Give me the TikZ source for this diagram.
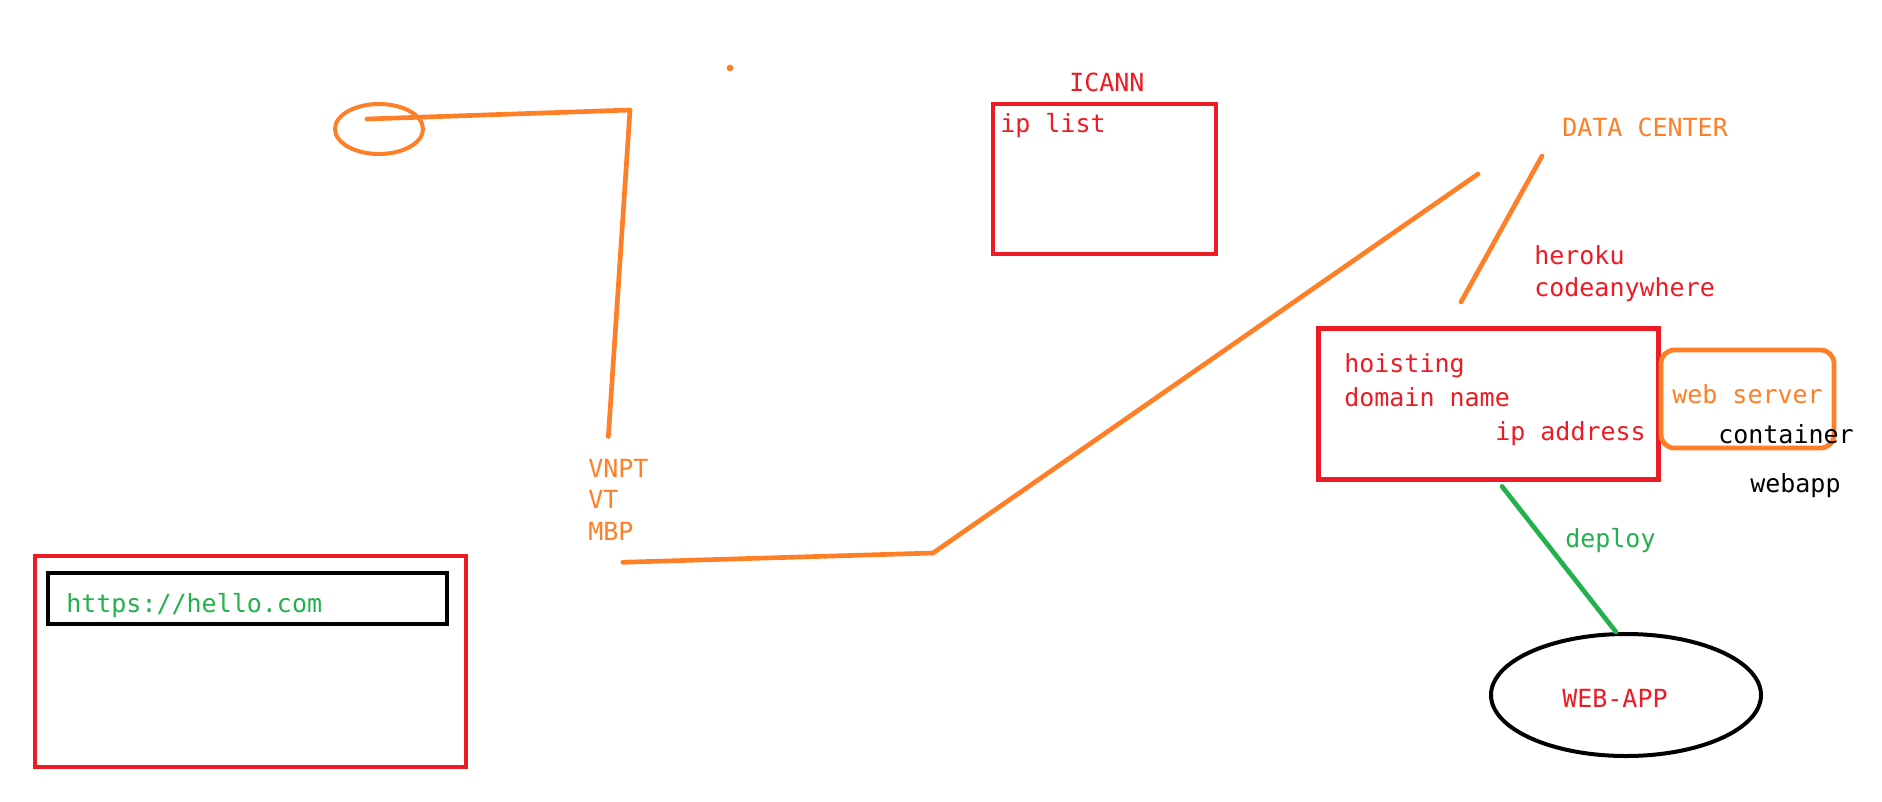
\documentclass[tikz,border=0pt]{standalone}
\usepackage{fontspec}
\setmonofont{DejaVu Sans Mono}
\usetikzlibrary{shapes.geometric}
\definecolor{paintred}{HTML}{ED1C24}
\definecolor{paintorange}{HTML}{FF7F27}
\definecolor{paintgreen}{HTML}{22B14C}

\begin{document}
\begin{tikzpicture}
  [
    x = 0.75pt, y = -0.75pt,
    note/.style = {anchor=base west, inner sep=0, font=\ttfamily\fontsize{18.75}{22}\selectfont},
    frame/.style = {draw, rectangle, inner sep=0, line width=3.6pt},
    oval/.style = {draw, ellipse, inner sep=0, line width=3pt},
    wire/.style = {paintorange, line width=3.5pt, line cap=round, line join=round},
    deploy line/.style = {paintgreen, line width=3.5pt, line cap=round},
  ]

  \fill[white] (0,0) rectangle (1882,801);
  \useasboundingbox (0,0) rectangle (1882,801);

  % browser
  \node[frame, draw=paintred, minimum width=323.25pt, minimum height=158.25pt] (browser) at (250.5,661.5) {};
  \node[frame, draw=black, minimum width=299.25pt, minimum height=38.25pt] (urlbar) at (247.5,598.5) {};
  \node[note, text=paintgreen] (url) at (66,612) {https://hello.com};

  % user and isp
  \node[oval, draw=paintorange, minimum width=66pt, minimum height=37.5pt] (user) at (379,129) {};
  \node[circle, fill=paintorange, inner sep=0, minimum size=5pt] (dot) at (730,68) {};
  \node[note, text=paintorange] (vnpt) at (588,477) {VNPT};
  \node[note, text=paintorange] (vt)   at (588,508) {VT};
  \node[note, text=paintorange] (mbp)  at (588,540) {MBP};

  \coordinate (isp corner) at (630,110);
  \coordinate (isp bend)   at (933,553);
  \coordinate (dc in)      at (1478,174);
  \coordinate (dc top)     at (1542,156);
  \coordinate (dc bottom)  at (1461,302);

  \draw[wire] ([shift={(-12,-10)}]user.center) -- (isp corner) -- ([shift={(-10,-22)}]vnpt.north);
  \draw[wire] ([shift={(12,22)}]mbp.south) -- (isp bend) -- (dc in);
  \draw[wire] (dc top) -- (dc bottom);

  % icann
  \node[frame, draw=paintred, minimum width=167.25pt, minimum height=112.5pt] (icann) at (1104.5,179) {};
  \node[note, text=paintred] (icann label) at (1069,91)  {ICANN};
  \node[note, text=paintred] (ip list)     at (1000,132) {ip list};

  % data center
  \node[note, text=paintorange] (dc label) at (1562,136) {DATA CENTER};
  \node[note, text=paintred] (heroku)  at (1534,264) {heroku};
  \node[note, text=paintred] (codeany) at (1534,296) {codeanywhere};

  \node[frame, draw=paintred, minimum width=255pt, minimum height=113.25pt] (host) at (1488.5,404) {};
  \node[frame, draw=paintorange, rounded corners=10pt, minimum width=129.75pt, minimum height=73.5pt] (server) at (1747.5,399) {};
  \node[note, text=paintred] (hoisting)   at (1344,372) {hoisting};
  \node[note, text=paintred] (domain)     at (1344,406) {domain name};
  \node[note, text=paintred] (ip address) at (1495,440) {ip address};
  \node[note, text=paintorange] (server label) at (1672,403) {web server};
  \node[note, text=black] (container)    at (1718,443) {container};
  \node[note, text=black] (webapp label) at (1750,492) {webapp};

  % deploy
  \node[oval, draw=black, minimum width=202.5pt, minimum height=91.5pt] (webapp) at (1626,695) {};
  \node[note, text=paintred] (webapp text) at (1562,707) {WEB-APP};
  \draw[deploy line] ([shift={(13.5,4.5)}]host.south) -- ([xshift=-7.5pt]webapp.north);
  \node[note, text=paintgreen] (deploy) at (1565,547) {deploy};

\end{tikzpicture}
\end{document}
